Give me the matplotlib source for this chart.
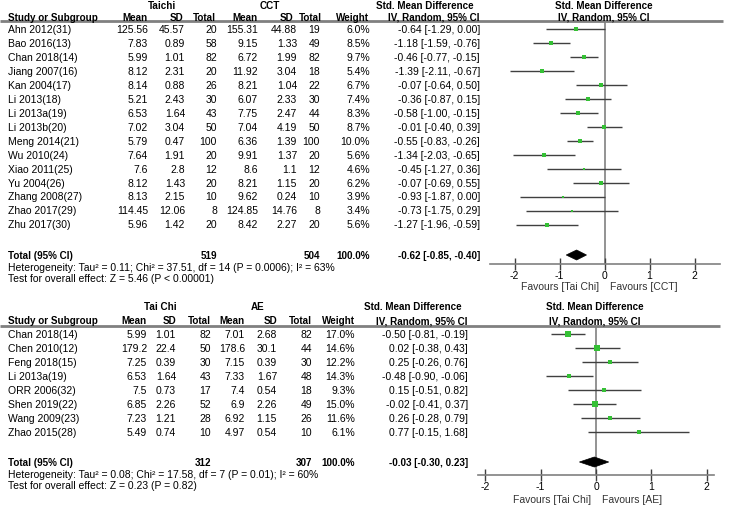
import matplotlib
matplotlib.use("Agg")
import matplotlib.pyplot as plt
from matplotlib.patches import Polygon

plt.rcParams['font.family'] = ['Liberation Sans', 'DejaVu Sans']

# ---------------- Data: panel 1 (Taichi vs CCT) ----------------
p1_studies = ["Ahn 2012(31)", "Bao 2016(13)", "Chan 2018(14)", "Jiang 2007(16)", "Kan 2004(17)",
              "Li 2013(18)", "Li 2013a(19)", "Li 2013b(20)", "Meng 2014(21)", "Wu 2010(24)",
              "Xiao 2011(25)", "Yu 2004(26)", "Zhang 2008(27)", "Zhao 2017(29)", "Zhu 2017(30)"]
p1_t_mean = [125.56, 7.83, 5.99, 8.12, 8.14, 5.21, 6.53, 7.02, 5.79, 7.64, 7.6, 8.12, 8.13, 114.45, 5.96]
p1_t_sd = [45.57, 0.89, 1.01, 2.31, 0.88, 2.43, 1.64, 3.04, 0.47, 1.91, 2.8, 1.43, 2.15, 12.06, 1.42]
p1_t_n = [20, 58, 82, 20, 26, 30, 43, 50, 100, 20, 12, 20, 10, 8, 20]
p1_c_mean = [155.31, 9.15, 6.72, 11.92, 8.21, 6.07, 7.75, 7.04, 6.36, 9.91, 8.6, 8.21, 9.62, 124.85, 8.42]
p1_c_sd = [44.88, 1.33, 1.99, 3.04, 1.04, 2.33, 2.47, 4.19, 1.39, 1.37, 1.1, 1.15, 0.24, 14.76, 2.27]
p1_c_n = [19, 49, 82, 18, 22, 30, 44, 50, 100, 20, 12, 20, 10, 8, 20]
p1_weight = [6.0, 8.5, 9.7, 5.4, 6.7, 7.4, 8.3, 8.7, 10.0, 5.6, 4.6, 6.2, 3.9, 3.4, 5.6]
p1_smd = [-0.64, -1.18, -0.46, -1.39, -0.07, -0.36, -0.58, -0.01, -0.55, -1.34, -0.45, -0.07, -0.93, -0.73, -1.27]
p1_lo = [-1.29, -1.59, -0.77, -2.11, -0.64, -0.87, -1.00, -0.40, -0.83, -2.03, -1.27, -0.69, -1.87, -1.75, -1.96]
p1_hi = [0.00, -0.76, -0.15, -0.67, 0.50, 0.15, -0.15, 0.39, -0.26, -0.65, 0.36, 0.55, 0.00, 0.29, -0.59]
p1_total = [519, 504]
p1_pooled = [-0.62, -0.85, -0.40]
p1_groups = ["Taichi", "CCT"]
p1_favours = ["Favours [Tai Chi]", "Favours [CCT]"]
p1_het = "Heterogeneity: Tau\u00b2 = 0.11; Chi\u00b2 = 37.51, df = 14 (P = 0.0006); I\u00b2 = 63%"
p1_test = "Test for overall effect: Z = 5.46 (P < 0.00001)"

# ---------------- Data: panel 2 (Tai Chi vs AE) ----------------
p2_studies = ["Chan 2018(14)", "Chen 2010(12)", "Feng 2018(15)", "Li 2013a(19)", "ORR 2006(32)",
              "Shen 2019(22)", "Wang 2009(23)", "Zhao 2015(28)"]
p2_t_mean = [5.99, 179.2, 7.25, 6.53, 7.5, 6.85, 7.23, 5.49]
p2_t_sd = [1.01, 22.4, 0.39, 1.64, 0.73, 2.26, 1.21, 0.74]
p2_t_n = [82, 50, 30, 43, 17, 52, 28, 10]
p2_c_mean = [7.01, 178.6, 7.15, 7.33, 7.4, 6.9, 6.92, 4.97]
p2_c_sd = [2.68, 30.1, 0.39, 1.67, 0.54, 2.26, 1.15, 0.54]
p2_c_n = [82, 44, 30, 48, 18, 49, 26, 10]
p2_weight = [17.0, 14.6, 12.2, 14.3, 9.3, 15.0, 11.6, 6.1]
p2_smd = [-0.50, 0.02, 0.25, -0.48, 0.15, -0.02, 0.26, 0.77]
p2_lo = [-0.81, -0.38, -0.26, -0.90, -0.51, -0.41, -0.28, -0.15]
p2_hi = [-0.19, 0.43, 0.76, -0.06, 0.82, 0.37, 0.79, 1.68]
p2_total = [312, 307]
p2_pooled = [-0.03, -0.30, 0.23]
p2_groups = ["Tai Chi", "AE"]
p2_favours = ["Favours [Tai Chi]", "Favours [AE]"]
p2_het = "Heterogeneity: Tau\u00b2 = 0.08; Chi\u00b2 = 17.58, df = 7 (P = 0.01); I\u00b2 = 60%"
p2_test = "Test for overall effect: Z = 0.23 (P = 0.82)"

tick_vals = [-2, -1, 0, 1, 2]

W, H = 729, 506
fig = plt.figure(figsize=(W / 100, H / 100), dpi=100)
bg = fig.add_axes([0, 0, 1, 1])
bg.set_xlim(0, W)
bg.set_ylim(H, 0)
bg.axis('off')

FS = 7.5
FSB = 7.1
GREEN = '#35c035'
GRAY = '#808080'
LINE = '#404040'


def fmt(v):
    return f"{v:g}"


def draw_panel(layout, studies, tm, tsd, tn, cm, csd, cn, wt, smd, lo, hi,
               total, pooled, groups, favours, het, test):
    L = layout
    cols = L['cols']  # right edges: tmean, tsd, tn, cmean, csd, cn, weight, ci
    hcols = L['hcols']
    y1, y2, yl = L['h1'], L['h2'], L['hline']
    bkw = dict(va='center', fontsize=FSB, fontweight='bold')
    bg.text(L['g1x'], y1, groups[0], ha='center', **bkw)
    bg.text(L['g2x'], y1, groups[1], ha='center', **bkw)
    bg.text(L['smdx'], y1, "Std. Mean Difference", ha='center', **bkw)
    bg.text(L['smd2x'], y1, "Std. Mean Difference", ha='center', **bkw)
    bg.text(8, y2, "Study or Subgroup", ha='left', **bkw)
    hdrs = ["Mean", "SD", "Total", "Mean", "SD", "Total", "Weight", "IV, Random, 95% CI"]
    for x, h in zip(hcols, hdrs):
        bg.text(x, y2, h, ha='right', **bkw)
    bg.text(L['smd2x'], y2, "IV, Random, 95% CI", ha='center', **bkw)
    bg.plot([0, L['hline_end']], [yl, yl], color=GRAY, lw=2, solid_capstyle='butt')

    ys = [L['row0'] + i * L['dy'] for i in range(len(studies))]
    for i, y in enumerate(ys):
        bg.text(8, y, studies[i], ha='left', va='center', fontsize=FS)
        vals = [fmt(tm[i]), fmt(tsd[i]), str(tn[i]), fmt(cm[i]), fmt(csd[i]), str(cn[i]),
                f"{wt[i]:.1f}%", f"{smd[i]:.2f} [{lo[i]:.2f}, {hi[i]:.2f}]"]
        for x, v in zip(cols, vals):
            bg.text(x, y, v, ha='right', va='center', fontsize=FS)

    yt = L['total_y']
    bg.text(8, yt, "Total (95% CI)", ha='left', **bkw)
    bg.text(cols[2], yt, str(total[0]), ha='right', **bkw)
    bg.text(cols[5], yt, str(total[1]), ha='right', **bkw)
    bg.text(cols[6], yt, "100.0%", ha='right', **bkw)
    bg.text(cols[7], yt, f"{pooled[0]:.2f} [{pooled[1]:.2f}, {pooled[2]:.2f}]", ha='right', **bkw)
    bg.text(8, yt + 12, het, ha='left', va='center', fontsize=FS)
    bg.text(8, yt + 23, test, ha='left', va='center', fontsize=FS)

    x0, x1 = L['ax_px']
    zero, scale = L['zero_px'], L['px_per_unit']
    ytop, ybot = yl, L['axis_y']
    ax = fig.add_axes([x0 / W, 1 - ybot / H, (x1 - x0) / W, (ybot - ytop) / H])
    ax.set_xlim((x0 - zero) / scale, (x1 - zero) / scale)
    ax.set_ylim(ybot, ytop)
    ax.patch.set_alpha(0)
    for s in ['top', 'left', 'right']:
        ax.spines[s].set_visible(False)
    ax.spines['bottom'].set_color(GRAY)
    ax.spines['bottom'].set_linewidth(1.2)
    ax.set_yticks([])
    ax.set_xticks(tick_vals)
    ax.set_xticklabels([str(t) for t in tick_vals], fontsize=FS)
    ax.tick_params(axis='x', direction='inout', length=8, width=1, color=LINE, pad=0)
    ax.axvline(0, color=GRAY, lw=1.2, zorder=1)
    for i, y in enumerate(ys):
        ax.plot([lo[i], hi[i]], [y, y], color=LINE, lw=1, zorder=2, solid_capstyle='butt')
        ax.plot([smd[i]], [y], marker='s', color=GREEN, markersize=0.95 * wt[i] ** 0.5,
                markeredgewidth=0, zorder=3, linestyle='none')
    d = Polygon([[pooled[1], yt], [pooled[0], yt - 5], [pooled[2], yt], [pooled[0], yt + 5]],
                closed=True, facecolor='black', edgecolor='black', lw=0.5, zorder=4)
    ax.add_patch(d)
    fy = L['fav_y']
    bg.text(zero - 5, fy, favours[0], ha='right', va='center', fontsize=FS, color='#333333')
    bg.text(zero + 6, fy, favours[1], ha='left', va='center', fontsize=FS, color='#333333')


layout1 = dict(cols=[148, 185, 217, 258, 297, 320, 370, 480],
               hcols=[148, 183, 216, 258, 293, 322, 369, 480],
               h1=6, h2=17.5, hline=22, hline_end=723,
               g1x=162, g2x=270, smdx=425, smd2x=604, row0=29.5, dy=14, total_y=256,
               ax_px=(490, 720), zero_px=604.5, px_per_unit=45, axis_y=265, fav_y=287)
layout2 = dict(cols=[147, 176, 211, 245, 277, 312, 355, 468],
               hcols=[147, 176, 211, 245, 277, 312, 355, 468],
               h1=307, h2=321.5, hline=327, hline_end=720,
               g1x=160, g2x=258, smdx=413, smd2x=595, row0=335, dy=14, total_y=463,
               ax_px=(478, 714), zero_px=596, px_per_unit=55.3, axis_y=476, fav_y=500)

draw_panel(layout1, p1_studies, p1_t_mean, p1_t_sd, p1_t_n, p1_c_mean, p1_c_sd, p1_c_n, p1_weight,
           p1_smd, p1_lo, p1_hi, p1_total, p1_pooled, p1_groups, p1_favours, p1_het, p1_test)
draw_panel(layout2, p2_studies, p2_t_mean, p2_t_sd, p2_t_n, p2_c_mean, p2_c_sd, p2_c_n, p2_weight,
           p2_smd, p2_lo, p2_hi, p2_total, p2_pooled, p2_groups, p2_favours, p2_het, p2_test)

fig.savefig("out.png", dpi=100, facecolor='white')
